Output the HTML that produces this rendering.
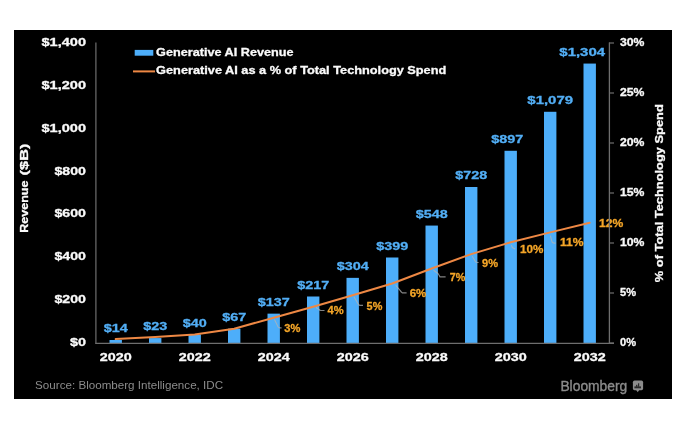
<!DOCTYPE html>
<html><head><meta charset="utf-8"><style>
html,body{margin:0;padding:0;background:#fff;width:700px;height:441px;overflow:hidden;}
svg{display:block;font-family:"Liberation Sans", sans-serif;will-change:transform;}
</style></head><body>
<svg width="700" height="441" viewBox="0 0 700 441" font-family='"Liberation Sans", sans-serif'><rect x="0" y="0" width="700" height="441" fill="#fff"/>
<rect x="14" y="30" width="658" height="369" fill="#000"/>
<rect x="109.50" y="340.00" width="12.4" height="3.00" fill="#4DAEFA"/>
<rect x="149.00" y="338.07" width="12.4" height="4.93" fill="#4DAEFA"/>
<rect x="188.50" y="334.43" width="12.4" height="8.57" fill="#4DAEFA"/>
<rect x="228.00" y="328.64" width="12.4" height="14.36" fill="#4DAEFA"/>
<rect x="267.50" y="313.64" width="12.4" height="29.36" fill="#4DAEFA"/>
<rect x="307.00" y="296.50" width="12.4" height="46.50" fill="#4DAEFA"/>
<rect x="346.50" y="277.86" width="12.4" height="65.14" fill="#4DAEFA"/>
<rect x="386.00" y="257.50" width="12.4" height="85.50" fill="#4DAEFA"/>
<rect x="425.50" y="225.57" width="12.4" height="117.43" fill="#4DAEFA"/>
<rect x="465.00" y="187.00" width="12.4" height="156.00" fill="#4DAEFA"/>
<rect x="504.50" y="150.79" width="12.4" height="192.21" fill="#4DAEFA"/>
<rect x="544.00" y="111.79" width="12.4" height="231.21" fill="#4DAEFA"/>
<rect x="583.50" y="63.57" width="12.4" height="279.43" fill="#4DAEFA"/>
<line x1="95.9" y1="42.5" x2="95.9" y2="343.8" stroke="#6E6E6E" stroke-width="1.2"/>
<line x1="609" y1="343.0" x2="614" y2="343.0" stroke="#6E6E6E" stroke-width="1.2"/>
<line x1="609" y1="293.0" x2="614" y2="293.0" stroke="#6E6E6E" stroke-width="1.2"/>
<line x1="609" y1="243.0" x2="614" y2="243.0" stroke="#6E6E6E" stroke-width="1.2"/>
<line x1="609" y1="193.0" x2="614" y2="193.0" stroke="#6E6E6E" stroke-width="1.2"/>
<line x1="609" y1="143.0" x2="614" y2="143.0" stroke="#6E6E6E" stroke-width="1.2"/>
<line x1="609" y1="93.0" x2="614" y2="93.0" stroke="#6E6E6E" stroke-width="1.2"/>
<line x1="609" y1="43.0" x2="614" y2="43.0" stroke="#6E6E6E" stroke-width="1.2"/>
<line x1="95.3" y1="343.4" x2="614" y2="343.4" stroke="#6E6E6E" stroke-width="1.2"/>
<polyline points="115.70,339.10 155.20,337.00 194.70,334.50 234.20,328.70 273.70,317.70 313.20,306.80 352.70,295.20 392.20,283.50 431.70,268.50 471.20,254.10 510.70,242.30 550.20,232.40 589.70,222.70" fill="none" stroke="#EE8844" stroke-width="2.0" stroke-linejoin="round" stroke-linecap="round"/>
<text x="70.00" y="346.00" font-size="11" font-weight="bold" fill="#FAFAFA" stroke="#FAFAFA" stroke-width="0.3" textLength="16.00" lengthAdjust="spacingAndGlyphs" >$0</text>
<text x="54.50" y="303.14" font-size="11" font-weight="bold" fill="#FAFAFA" stroke="#FAFAFA" stroke-width="0.3" textLength="31.50" lengthAdjust="spacingAndGlyphs" >$200</text>
<text x="54.50" y="260.29" font-size="11" font-weight="bold" fill="#FAFAFA" stroke="#FAFAFA" stroke-width="0.3" textLength="31.50" lengthAdjust="spacingAndGlyphs" >$400</text>
<text x="54.50" y="217.43" font-size="11" font-weight="bold" fill="#FAFAFA" stroke="#FAFAFA" stroke-width="0.3" textLength="31.50" lengthAdjust="spacingAndGlyphs" >$600</text>
<text x="54.50" y="174.57" font-size="11" font-weight="bold" fill="#FAFAFA" stroke="#FAFAFA" stroke-width="0.3" textLength="31.50" lengthAdjust="spacingAndGlyphs" >$800</text>
<text x="41.50" y="131.71" font-size="11" font-weight="bold" fill="#FAFAFA" stroke="#FAFAFA" stroke-width="0.3" textLength="44.50" lengthAdjust="spacingAndGlyphs" >$1,000</text>
<text x="41.50" y="88.86" font-size="11" font-weight="bold" fill="#FAFAFA" stroke="#FAFAFA" stroke-width="0.3" textLength="44.50" lengthAdjust="spacingAndGlyphs" >$1,200</text>
<text x="41.50" y="46.00" font-size="11" font-weight="bold" fill="#FAFAFA" stroke="#FAFAFA" stroke-width="0.3" textLength="44.50" lengthAdjust="spacingAndGlyphs" >$1,400</text>
<text x="620.00" y="346.40" font-size="11" font-weight="bold" fill="#FAFAFA" stroke="#FAFAFA" stroke-width="0.3" textLength="16.00" lengthAdjust="spacingAndGlyphs" >0%</text>
<text x="620.00" y="296.40" font-size="11" font-weight="bold" fill="#FAFAFA" stroke="#FAFAFA" stroke-width="0.3" textLength="16.00" lengthAdjust="spacingAndGlyphs" >5%</text>
<text x="620.00" y="246.40" font-size="11" font-weight="bold" fill="#FAFAFA" stroke="#FAFAFA" stroke-width="0.3" textLength="24.50" lengthAdjust="spacingAndGlyphs" >10%</text>
<text x="620.00" y="196.40" font-size="11" font-weight="bold" fill="#FAFAFA" stroke="#FAFAFA" stroke-width="0.3" textLength="24.50" lengthAdjust="spacingAndGlyphs" >15%</text>
<text x="620.00" y="146.40" font-size="11" font-weight="bold" fill="#FAFAFA" stroke="#FAFAFA" stroke-width="0.3" textLength="24.50" lengthAdjust="spacingAndGlyphs" >20%</text>
<text x="620.00" y="96.40" font-size="11" font-weight="bold" fill="#FAFAFA" stroke="#FAFAFA" stroke-width="0.3" textLength="24.50" lengthAdjust="spacingAndGlyphs" >25%</text>
<text x="620.00" y="46.40" font-size="11" font-weight="bold" fill="#FAFAFA" stroke="#FAFAFA" stroke-width="0.3" textLength="24.50" lengthAdjust="spacingAndGlyphs" >30%</text>
<text x="99.70" y="361.00" font-size="11" font-weight="bold" fill="#FAFAFA" stroke="#FAFAFA" stroke-width="0.3" textLength="32.00" lengthAdjust="spacingAndGlyphs" >2020</text>
<text x="178.70" y="361.00" font-size="11" font-weight="bold" fill="#FAFAFA" stroke="#FAFAFA" stroke-width="0.3" textLength="32.00" lengthAdjust="spacingAndGlyphs" >2022</text>
<text x="257.70" y="361.00" font-size="11" font-weight="bold" fill="#FAFAFA" stroke="#FAFAFA" stroke-width="0.3" textLength="32.00" lengthAdjust="spacingAndGlyphs" >2024</text>
<text x="336.70" y="361.00" font-size="11" font-weight="bold" fill="#FAFAFA" stroke="#FAFAFA" stroke-width="0.3" textLength="32.00" lengthAdjust="spacingAndGlyphs" >2026</text>
<text x="415.70" y="361.00" font-size="11" font-weight="bold" fill="#FAFAFA" stroke="#FAFAFA" stroke-width="0.3" textLength="32.00" lengthAdjust="spacingAndGlyphs" >2028</text>
<text x="494.70" y="361.00" font-size="11" font-weight="bold" fill="#FAFAFA" stroke="#FAFAFA" stroke-width="0.3" textLength="32.00" lengthAdjust="spacingAndGlyphs" >2030</text>
<text x="573.70" y="361.00" font-size="11" font-weight="bold" fill="#FAFAFA" stroke="#FAFAFA" stroke-width="0.3" textLength="32.00" lengthAdjust="spacingAndGlyphs" >2032</text>
<text x="103.70" y="332.40" font-size="11" font-weight="bold" fill="#52AEF5" stroke="#52AEF5" stroke-width="0.3" textLength="24.00" lengthAdjust="spacingAndGlyphs" >$14</text>
<text x="143.20" y="330.47" font-size="11" font-weight="bold" fill="#52AEF5" stroke="#52AEF5" stroke-width="0.3" textLength="24.00" lengthAdjust="spacingAndGlyphs" >$23</text>
<text x="182.70" y="326.83" font-size="11" font-weight="bold" fill="#52AEF5" stroke="#52AEF5" stroke-width="0.3" textLength="24.00" lengthAdjust="spacingAndGlyphs" >$40</text>
<text x="222.20" y="321.04" font-size="11" font-weight="bold" fill="#52AEF5" stroke="#52AEF5" stroke-width="0.3" textLength="24.00" lengthAdjust="spacingAndGlyphs" >$67</text>
<text x="257.70" y="306.04" font-size="11" font-weight="bold" fill="#52AEF5" stroke="#52AEF5" stroke-width="0.3" textLength="32.00" lengthAdjust="spacingAndGlyphs" >$137</text>
<text x="297.20" y="288.90" font-size="11" font-weight="bold" fill="#52AEF5" stroke="#52AEF5" stroke-width="0.3" textLength="32.00" lengthAdjust="spacingAndGlyphs" >$217</text>
<text x="336.70" y="270.26" font-size="11" font-weight="bold" fill="#52AEF5" stroke="#52AEF5" stroke-width="0.3" textLength="32.00" lengthAdjust="spacingAndGlyphs" >$304</text>
<text x="376.20" y="249.90" font-size="11" font-weight="bold" fill="#52AEF5" stroke="#52AEF5" stroke-width="0.3" textLength="32.00" lengthAdjust="spacingAndGlyphs" >$399</text>
<text x="415.70" y="217.97" font-size="11" font-weight="bold" fill="#52AEF5" stroke="#52AEF5" stroke-width="0.3" textLength="32.00" lengthAdjust="spacingAndGlyphs" >$548</text>
<text x="455.20" y="179.40" font-size="11" font-weight="bold" fill="#52AEF5" stroke="#52AEF5" stroke-width="0.3" textLength="32.00" lengthAdjust="spacingAndGlyphs" >$728</text>
<text x="491.20" y="143.19" font-size="11" font-weight="bold" fill="#52AEF5" stroke="#52AEF5" stroke-width="0.3" textLength="32.00" lengthAdjust="spacingAndGlyphs" >$897</text>
<text x="527.35" y="104.19" font-size="11" font-weight="bold" fill="#52AEF5" stroke="#52AEF5" stroke-width="0.3" textLength="45.70" lengthAdjust="spacingAndGlyphs" >$1,079</text>
<text x="559.35" y="55.97" font-size="11" font-weight="bold" fill="#52AEF5" stroke="#52AEF5" stroke-width="0.3" textLength="45.70" lengthAdjust="spacingAndGlyphs" >$1,304</text>
<path d="M274.5,319.5 L278,326.8 Q278.6,327.8 280,327.9 L281.6,327.9" fill="none" stroke="#b4b4b4" stroke-opacity="0.72" stroke-width="1.1"/>
<path d="M316,307.5 L318.9,309.4 Q319.5,310.4 320.9,310.5 L324.5,310.5" fill="none" stroke="#b4b4b4" stroke-opacity="0.72" stroke-width="1.1"/>
<path d="M353.9,296.8 L358.4,304.4 Q359.0,305.4 360.4,305.4 L363,305.4" fill="none" stroke="#b4b4b4" stroke-opacity="0.72" stroke-width="1.1"/>
<path d="M395.7,285.4 L400.3,290.59999999999997 Q400.90000000000003,291.59999999999997 402.3,292.9 L406.6,292.9" fill="none" stroke="#b4b4b4" stroke-opacity="0.72" stroke-width="1.1"/>
<path d="M433.5,270.2 L438,273.5 Q438.6,274.5 440,276.9 L445.6,276.9" fill="none" stroke="#b4b4b4" stroke-opacity="0.72" stroke-width="1.1"/>
<path d="M472.2,256.2 L475.4,261.5 Q476.0,262.5 477.4,262.5 L478.6,262.5" fill="none" stroke="#b4b4b4" stroke-opacity="0.72" stroke-width="1.1"/>
<path d="M511.4,245.2 L512,246.89999999999998 Q512.6,247.89999999999998 514,248.6 L515.2,248.6" fill="none" stroke="#b4b4b4" stroke-opacity="0.72" stroke-width="1.1"/>
<path d="M550.4,235.6 L552,241.89999999999998 Q552.6,242.89999999999998 554,243.1 L555.6,243.1" fill="none" stroke="#b4b4b4" stroke-opacity="0.72" stroke-width="1.1"/>
<text x="284.30" y="331.70" font-size="11" font-weight="bold" fill="#F5A628" stroke="#F5A628" stroke-width="0.3" textLength="16.10" lengthAdjust="spacingAndGlyphs" >3%</text>
<text x="327.60" y="314.30" font-size="11" font-weight="bold" fill="#F5A628" stroke="#F5A628" stroke-width="0.3" textLength="16.10" lengthAdjust="spacingAndGlyphs" >4%</text>
<text x="366.60" y="309.50" font-size="11" font-weight="bold" fill="#F5A628" stroke="#F5A628" stroke-width="0.3" textLength="15.70" lengthAdjust="spacingAndGlyphs" >5%</text>
<text x="409.70" y="296.50" font-size="11" font-weight="bold" fill="#F5A628" stroke="#F5A628" stroke-width="0.3" textLength="16.70" lengthAdjust="spacingAndGlyphs" >6%</text>
<text x="449.80" y="280.50" font-size="11" font-weight="bold" fill="#F5A628" stroke="#F5A628" stroke-width="0.3" textLength="15.60" lengthAdjust="spacingAndGlyphs" >7%</text>
<text x="482.00" y="266.50" font-size="11" font-weight="bold" fill="#F5A628" stroke="#F5A628" stroke-width="0.3" textLength="16.00" lengthAdjust="spacingAndGlyphs" >9%</text>
<text x="520.00" y="253.00" font-size="11" font-weight="bold" fill="#F5A628" stroke="#F5A628" stroke-width="0.3" textLength="23.40" lengthAdjust="spacingAndGlyphs" >10%</text>
<text x="560.00" y="246.20" font-size="11" font-weight="bold" fill="#F5A628" stroke="#F5A628" stroke-width="0.3" textLength="23.60" lengthAdjust="spacingAndGlyphs" >11%</text>
<text x="599.00" y="227.00" font-size="11" font-weight="bold" fill="#F5A628" stroke="#F5A628" stroke-width="0.3" textLength="24.30" lengthAdjust="spacingAndGlyphs" >12%</text>
<line x1="609.4" y1="42.5" x2="609.4" y2="343.5" stroke="#6E6E6E" stroke-width="1.3"/>
<rect x="134.7" y="49.9" width="18.6" height="5.8" fill="#4DAEFA"/>
<line x1="133" y1="71.4" x2="155" y2="71.4" stroke="#EE8844" stroke-width="2"/>
<text x="156.10" y="55.70" font-size="11" font-weight="bold" fill="#FAFAFA" stroke="#FAFAFA" stroke-width="0.3" textLength="137.40" lengthAdjust="spacingAndGlyphs" >Generative AI Revenue</text>
<text x="156.10" y="73.80" font-size="11" font-weight="bold" fill="#FAFAFA" stroke="#FAFAFA" stroke-width="0.3" textLength="290.20" lengthAdjust="spacingAndGlyphs" >Generative AI as a % of Total Technology Spend</text>
<g transform="translate(28,232.2) rotate(-90)"><text x="-0.60" y="0.00" font-size="11" font-weight="bold" fill="#FAFAFA" stroke="#FAFAFA" stroke-width="0.3" textLength="52.20" lengthAdjust="spacingAndGlyphs" >Revenue</text><text x="56.80" y="0.00" font-size="11" font-weight="bold" fill="#FAFAFA" stroke="#FAFAFA" stroke-width="0.3" textLength="31.80" lengthAdjust="spacingAndGlyphs" >($B)</text></g>
<g transform="translate(663,282.2) rotate(-90)"><text x="0.00" y="0.00" font-size="11" font-weight="bold" fill="#FAFAFA" stroke="#FAFAFA" stroke-width="0.3" textLength="178.00" lengthAdjust="spacingAndGlyphs" >% of Total Technology Spend</text></g>
<text x="35.10" y="388.50" font-size="11" font-weight="normal" fill="#8C8C8C" textLength="188.00" lengthAdjust="spacingAndGlyphs" >Source: Bloomberg Intelligence, IDC</text>
<text x="560.40" y="391.00" font-size="14" font-weight="normal" fill="#8C8C8C" textLength="66.90" lengthAdjust="spacingAndGlyphs" stroke="#8C8C8C" stroke-width="0.35">Bloomberg</text>
<rect x="632.9" y="380.6" width="10.2" height="9.6" rx="1.6" fill="#8C8C8C"/>
<path d="M636.2 390 L637.7 392.3 L639.2 390 Z" fill="#8C8C8C"/>
<rect x="634.4" y="386.4" width="6.6" height="1.9" fill="#2a2a2a"/>
<rect x="636" y="384.8" width="1.4" height="2" fill="#2a2a2a"/>
<rect x="638" y="383.3" width="1.2" height="3.5" fill="#2a2a2a"/></svg>
</body></html>
